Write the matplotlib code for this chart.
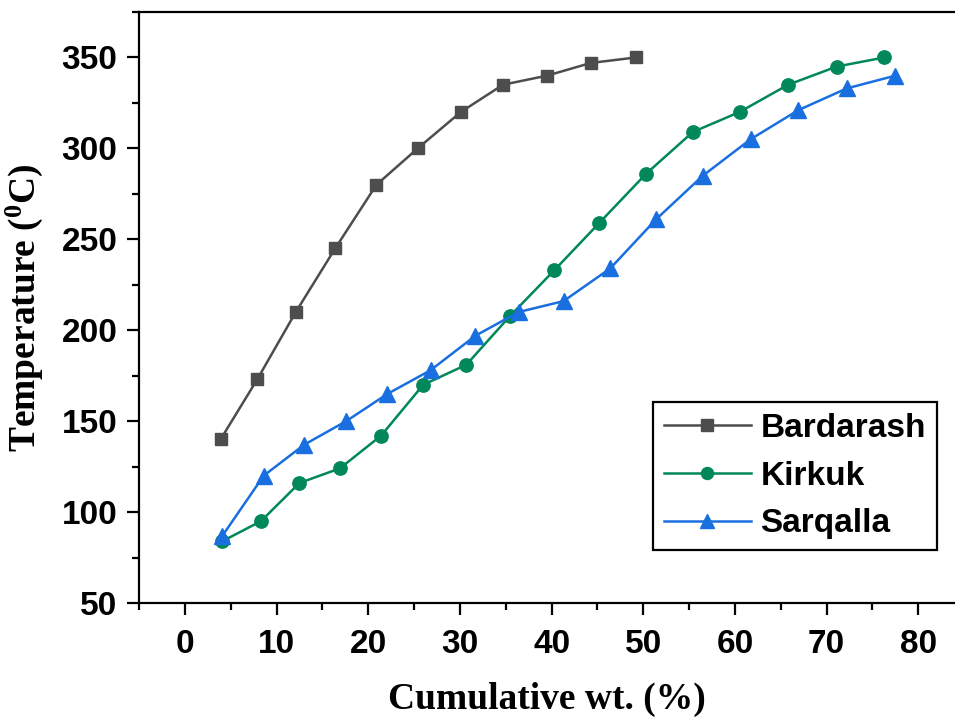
import numpy as np
import matplotlib
matplotlib.use('Agg')
from matplotlib import pyplot as plt
from matplotlib.ticker import MultipleLocator

# data
bard_x = [3.9, 7.9, 12.1, 16.4, 20.9, 25.4, 30.1, 34.7, 39.5, 44.3, 49.2]
bard_y = [140, 173, 210, 245, 280, 300, 320, 335, 340, 347, 350]

kirk_x = [4.1, 8.3, 12.5, 16.9, 21.4, 26.0, 30.7, 35.5, 40.3, 45.2, 50.3, 55.4, 60.5, 65.8, 71.1, 76.3]
kirk_y = [84, 95, 116, 124, 142, 170, 181, 208, 233, 259, 286, 309, 320, 335, 345, 350]

sarq_x = [4.1, 8.6, 13.0, 17.6, 22.1, 26.8, 31.7, 36.4, 41.3, 46.4, 51.4, 56.5, 61.7, 66.9, 72.2, 77.5]
sarq_y = [87, 120, 137, 150, 165, 178, 197, 210, 216, 234, 261, 285, 305, 321, 333, 340]

plt.rcParams['mathtext.fontset'] = 'custom'
plt.rcParams['mathtext.rm'] = 'Liberation Serif:bold'
plt.rcParams['mathtext.bf'] = 'Liberation Serif:bold'

fig = plt.figure(figsize=(9.55, 7.22), dpi=100)
ax = fig.add_axes([139/955, 1 - 603/722, 1 - 139/955, (603 - 12)/722])

ax.plot(bard_x, bard_y, color='#4d4d4d', lw=1.8, marker='s', ms=8.8, label='Bardarash')
ax.plot(kirk_x, kirk_y, color='#00875a', lw=1.8, marker='o', ms=9.6, label='Kirkuk')
ax.plot(sarq_x, sarq_y, color='#1a6fe0', lw=1.8, marker='^', ms=11, label='Sarqalla')

ax.set_xlim(-5, 84)
ax.set_ylim(50, 375)
ax.xaxis.set_major_locator(MultipleLocator(10))
ax.xaxis.set_minor_locator(MultipleLocator(5))
ax.yaxis.set_major_locator(MultipleLocator(50))
ax.yaxis.set_minor_locator(MultipleLocator(25))

ax.spines['right'].set_visible(False)
for s in ['left', 'bottom', 'top']:
    ax.spines[s].set_linewidth(1.6)

ax.tick_params(which='major', length=8.6, width=1.6, direction='out')
ax.tick_params(which='minor', length=5, width=1.6, direction='out')
ax.tick_params(axis='x', pad=10)
ax.tick_params(axis='y', pad=7)
for lab in ax.get_xticklabels() + ax.get_yticklabels():
    lab.set_fontfamily('Liberation Sans')
    lab.set_fontweight('bold')
    lab.set_fontsize(24)

ax.set_xlabel('Cumulative wt. (%)', family='Liberation Serif', weight='bold', fontsize=27, labelpad=16)
ax.set_ylabel(r'Temperature ($\mathregular{^0}$C)', family='Liberation Serif', weight='bold', fontsize=27, labelpad=12)

leg = ax.legend(loc='upper right', bbox_to_anchor=(0.978, 0.340), borderaxespad=0,
                prop={'family': 'Liberation Sans', 'weight': 'bold', 'size': 24},
                numpoints=1, fancybox=False, edgecolor='black', framealpha=1,
                handlelength=2.6, handletextpad=0.3, labelspacing=0.5, borderpad=0.33,
                markerscale=0.9)
leg.get_frame().set_linewidth(1.6)

fig.savefig('out.png', dpi=100)
